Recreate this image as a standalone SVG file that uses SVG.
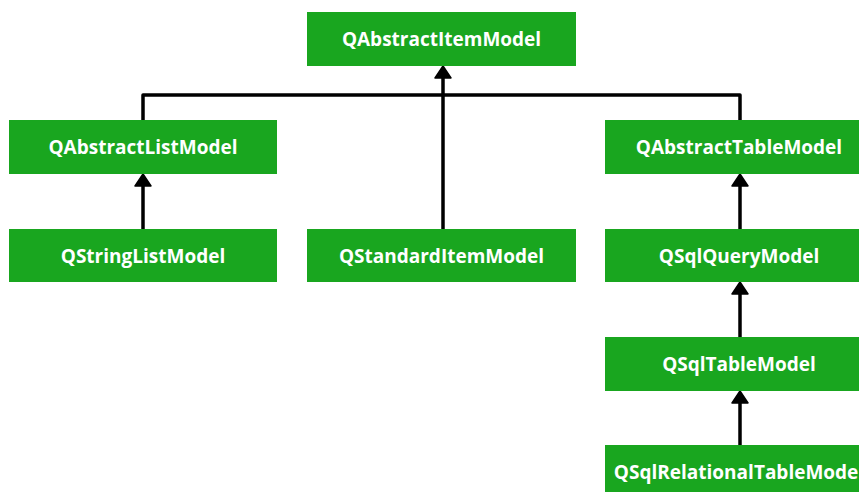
<svg xmlns="http://www.w3.org/2000/svg" width="859" height="492" viewBox="0 0 859 492">
<style>
.n{fill:#19a61f}
.t{fill:#fff;font-family:"Open Sans",sans-serif;font-weight:bold;font-size:19px;text-anchor:middle}
.c{fill:none;stroke:#000;stroke-width:3.5;stroke-linejoin:round}
.a{fill:#000;stroke:#000;stroke-linejoin:round;stroke-width:1.5}
</style>
<rect width="859" height="492" fill="#fff"/>
<g id="connectors">
<path class="c" d="M143 120 V95 H740 V120"/>
<path class="c" d="M443 229 V78"/>
<path class="a" d="M443 66 L451 78 L435 78 Z"/>
<path class="c" d="M143 229 V186"/>
<path class="a" d="M143 174 L151 186 L135 186 Z"/>
<path class="c" d="M740 229 V186"/>
<path class="a" d="M740 174 L748 186 L732 186 Z"/>
<path class="c" d="M740 337 V294"/>
<path class="a" d="M740 282 L748 294 L732 294 Z"/>
<path class="c" d="M740 445 V403"/>
<path class="a" d="M740 391 L748 403 L732 403 Z"/>
</g>
<g id="QAbstractItemModel"><rect class="n" x="307" y="12" width="269" height="54"/><text class="t" x="441.5" y="46">QAbstractItemModel</text></g>
<g id="QAbstractListModel"><rect class="n" x="9" y="120" width="268" height="54"/><text class="t" x="143" y="154">QAbstractListModel</text></g>
<g id="QAbstractTableModel"><rect class="n" x="605" y="120" width="268" height="54"/><text class="t" x="739" y="154">QAbstractTableModel</text></g>
<g id="QStringListModel"><rect class="n" x="9" y="229" width="268" height="53"/><text class="t" x="143" y="262.5">QStringListModel</text></g>
<g id="QStandardItemModel"><rect class="n" x="307" y="229" width="269" height="53"/><text class="t" x="441.5" y="262.5">QStandardItemModel</text></g>
<g id="QSqlQueryModel"><rect class="n" x="605" y="229" width="268" height="53"/><text class="t" x="739" y="262.5">QSqlQueryModel</text></g>
<g id="QSqlTableModel"><rect class="n" x="605" y="337" width="268" height="54"/><text class="t" x="739" y="371">QSqlTableModel</text></g>
<g id="QSqlRelationalTableModel"><rect class="n" x="605" y="445" width="268" height="54"/><text class="t" x="739" y="479">QSqlRelationalTableModel</text></g>
</svg>
